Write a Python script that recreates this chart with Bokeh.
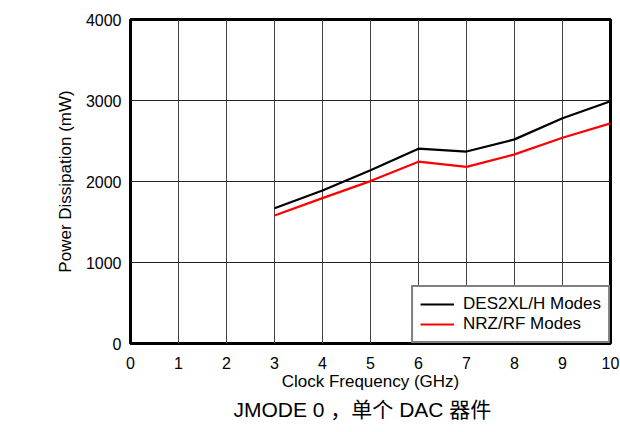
from bokeh.plotting import figure
from bokeh.models import Range1d, FixedTicker, Legend, LegendItem, Title
from bokeh.embed import file_html
from bokeh.resources import INLINE

freq_ghz = [3, 4, 5, 6, 7, 8, 9, 10]
des2xl_mw = [1670, 1890, 2140, 2405, 2370, 2520, 2780, 2990]
nrz_rf_mw = [1580, 1795, 2005, 2245, 2180, 2335, 2540, 2718]
x_ticks = [0, 1, 2, 3, 4, 5, 6, 7, 8, 9, 10]
y_ticks = [0, 1000, 2000, 3000, 4000]
series_names = ["DES2XL/H Modes", "NRZ/RF Modes"]
caption = "JMODE 0 ，单个 DAC 器件"

FONT = "'Liberation Sans', Arial, 'Noto Sans CJK SC', sans-serif"

p = figure(width=620, height=432, output_backend="svg", toolbar_location=None,
           x_range=Range1d(0, 10), y_range=Range1d(0, 4000),
           min_border_left=130, min_border_right=10, min_border_top=19, min_border_bottom=89)
p.background_fill_color = "white"
p.border_fill_color = "white"
p.outline_line_color = "black"
p.outline_line_width = 3

for ax in (p.xaxis[0], p.yaxis[0]):
    ax.axis_line_color = None
    ax.major_tick_line_color = None
    ax.minor_tick_line_color = None
    ax.major_label_text_font = FONT
    ax.major_label_text_font_size = "16px"
    ax.major_label_text_color = "black"
    ax.axis_label_text_font = FONT
    ax.axis_label_text_font_size = "17px"
    ax.axis_label_text_font_style = "normal"
    ax.axis_label_text_color = "black"

p.xaxis.ticker = FixedTicker(ticks=x_ticks)
p.yaxis.ticker = FixedTicker(ticks=y_ticks)
p.xaxis.axis_label = "Clock Frequency (GHz)"
p.yaxis.axis_label = "Power Dissipation (mW)"
p.xaxis.major_label_standoff = 7
p.xaxis.axis_label_standoff = 0
p.yaxis.major_label_standoff = 3
p.yaxis.axis_label_standoff = 8

p.xgrid.ticker = FixedTicker(ticks=x_ticks)
p.ygrid.ticker = FixedTicker(ticks=y_ticks)
p.xgrid.grid_line_color = "#444444"
p.ygrid.grid_line_color = "#222222"
p.xgrid.grid_line_width = 1
p.ygrid.grid_line_width = 1

r1 = p.line(freq_ghz, des2xl_mw, line_color="black", line_width=2.2)
r2 = p.line(freq_ghz, nrz_rf_mw, line_color="red", line_width=2.2)

legend = Legend(items=[LegendItem(label=series_names[0], renderers=[r1]),
                       LegendItem(label=series_names[1], renderers=[r2])],
                location="bottom_right", margin=0, padding=7, spacing=0,
                glyph_width=34, glyph_height=20, label_standoff=9,
                label_text_font=FONT, label_text_font_size="17px",
                label_text_color="black", label_height=20,
                border_line_color="black", border_line_width=2,
                background_fill_alpha=1.0)
p.add_layout(legend)

t = Title(text=caption, align="left", text_font=FONT, text_font_size="21px",
          text_font_style="normal", text_color="black", standoff=4, offset=103)
p.add_layout(t, "below")

open("out.html", "w").write(file_html(p, INLINE))
